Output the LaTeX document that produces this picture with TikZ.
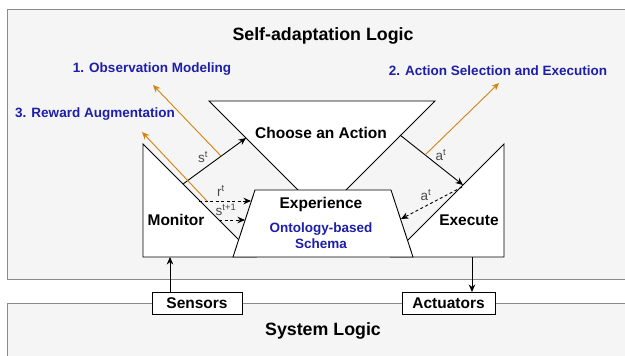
\documentclass[tikz,border=0pt]{standalone}
\usepackage{fontspec}
\setmainfont{Liberation Sans}
\usetikzlibrary{arrows.meta}
\definecolor{panelgray}{HTML}{F5F5F5}
\definecolor{panelline}{HTML}{8A8A8A}
\definecolor{phaseblue}{RGB}{30,30,170}
\definecolor{phaseorange}{RGB}{210,132,16}
\definecolor{labelgray}{HTML}{4A4A4A}

\begin{document}
\begin{tikzpicture}[x=1pt,y=-1pt,
    panel/.style={draw=panelline,fill=panelgray,line width=0.8pt},
    block/.style={draw,fill=white,line width=0.9pt,line join=miter},
    tip/.style={-{Stealth[length=7.5pt,width=6.5pt]}},
    flowlbl/.style={text=labelgray,font=\fontsize{13.5}{15}\selectfont}]
    \useasboundingbox (0,0) rectangle (625,356);
      \draw[panel] (7,9) rectangle (640,279);
      \draw[panel] (7,303) rectangle (640,370);
      \draw[block] (143,144) -- (143,257) -- (256,257) -- cycle;
      \draw[block] (209,101) -- (435,101) -- (322,214) -- cycle;
      \draw[block] (504,144) -- (504,257) -- (391,257) -- cycle;
      \draw[block] (255,190) -- (391,190) -- (413,257) -- (233,257) -- cycle;
      \begin{scope}[every node/.style={font=\fontsize{17.8}{20}\selectfont\bfseries}]
        \node (selflogic) at (323,36) {Self-adaptation Logic};
        \node (syslogic) at (323,331) {System Logic};
      \end{scope}
      \begin{scope}[every node/.style={font=\fontsize{13.5}{15.5}\selectfont\bfseries,text=phaseblue}]
        \node (phase1) at (152,69) {1. Observation Modeling};
        \node (phase2) at (498,71) {2. Action Selection and Execution};
        \node (phase3) at (95,114) {3. Reward Augmentation};
        \node[align=center] (schema) at (321,235.5) {Ontology-based\\Schema};
      \end{scope}
      \begin{scope}[every node/.style={font=\fontsize{15.5}{18}\selectfont\bfseries}]
        \node (choose) at (321,133) {Choose an Action};
        \node (experience) at (321,204) {Experience};
        \node (monitor) at (176,220) {Monitor};
        \node (execute) at (469,220) {Execute};
        \node[draw,fill=white,line width=0.9pt,minimum width=90pt,minimum height=22pt,inner sep=0pt] (sensors) at (197,303) {Sensors};
        \node[draw,fill=white,line width=0.9pt,minimum width=93pt,minimum height=22pt,inner sep=0pt] (actuators) at (448.5,303) {Actuators};
      \end{scope}
      \coordinate (st0) at (183,184);
      \coordinate (st1) at (246,138);
      \coordinate (rt0) at (199,201);
      \coordinate (rt1) at (251,201);
      \coordinate (sn0) at (219,220);
      \coordinate (sn1) at (245,220);
      \coordinate (at0) at (400,135);
      \coordinate (at1) at (463,185);
      \coordinate (ax0) at (462,187);
      \coordinate (ax1) at (401,219);
      \coordinate (sensout) at (170,292);
      \coordinate (monin) at (170,257);
      \coordinate (execout) at (472,257);
      \coordinate (actin) at (472,292);
      \coordinate (obs0) at (221,156);
      \coordinate (obs1) at (153,85);
      \coordinate (sel0) at (425,155);
      \coordinate (sel1) at (499,83);
      \coordinate (rew0) at (207,201);
      \coordinate (rew1) at (142,132);
      \begin{scope}[every edge/.style={draw,line width=0.9pt,tip}]
        \path (st0) edge (st1);
        \path (at0) edge (at1);
        \path (sensout) edge (monin);
        \path (execout) edge (actin);
      \end{scope}
      \begin{scope}[every edge/.style={draw,line width=0.9pt,dashed,dash pattern=on 3pt off 2.5pt,tip}]
        \path (rt0) edge (rt1);
        \path (sn0) edge (sn1);
        \path (ax0) edge (ax1);
      \end{scope}
      \begin{scope}[every edge/.style={draw=phaseorange,line width=0.9pt,-{Stealth[length=7.5pt,width=6.5pt,fill=phaseorange]}}]
        \path (obs0) edge (obs1);
        \path (sel0) edge (sel1);
        \path (rew0) edge (rew1);
      \end{scope}
      \begin{scope}[every node/.style={flowlbl}]
        \node (stlbl) at (203,157) {s\textsuperscript{t}};
        \node (rtlbl) at (221,191) {r\textsuperscript{t}};
        \node (snlbl) at (226,210) {s\textsuperscript{t+1}};
        \node (atlbl) at (441,155) {a\textsuperscript{t}};
        \node (axlbl) at (426,195) {a\textsuperscript{t}};
      \end{scope}
    \end{tikzpicture}
\end{document}
